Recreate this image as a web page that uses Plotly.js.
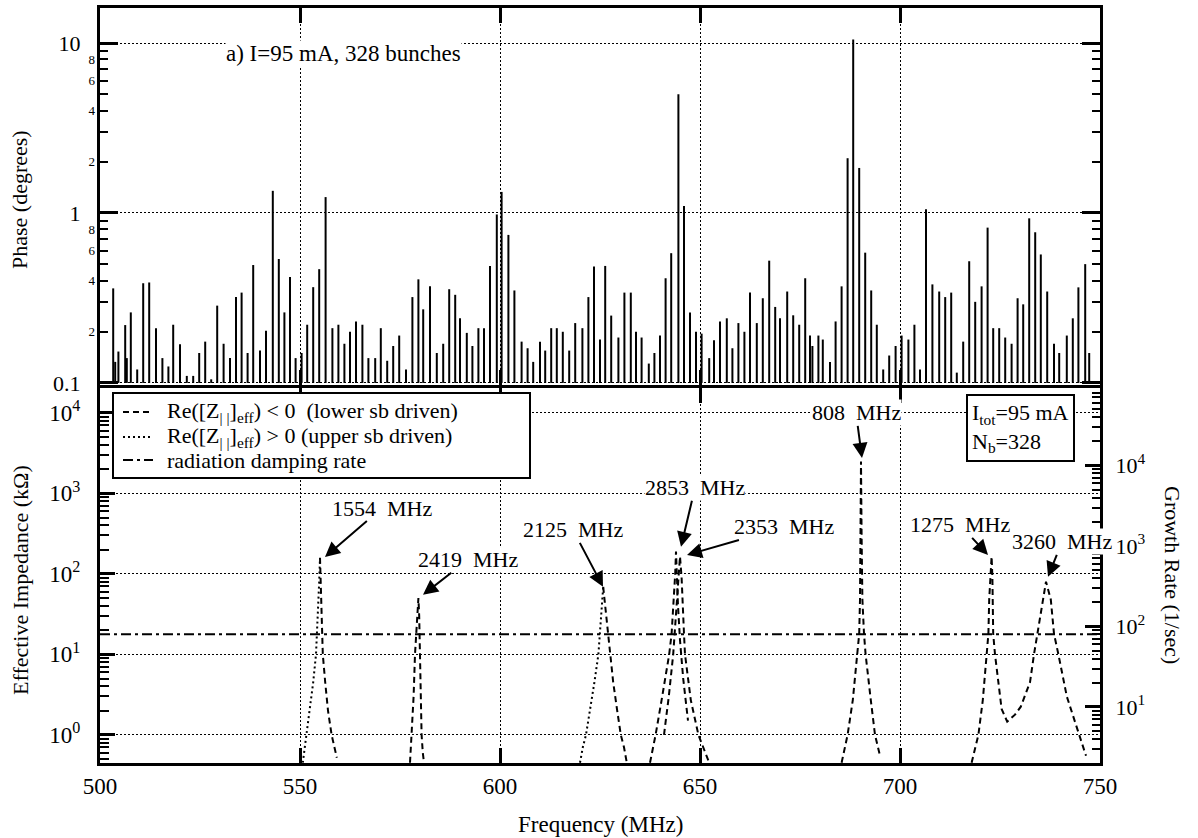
<!DOCTYPE html>
<html><head><meta charset="utf-8">
<script src="https://cdn.plot.ly/plotly-3.0.1.min.js"></script>
<style>html,body{margin:0;padding:0;background:#fff;}</style>
</head><body>
<div id="chart" style="width:1198px;height:838px;"></div>
<script>
// ---------- Top panel: phase spectrum (stems) ----------
const phaseFreq = [
503.3,503.8,504.6,506.3,506.7,507.7,509.3,510.8,512.3,514.0,515.6,517.1,518.3,520.0,521.7,523.3,524.8,526.3,527.8,529.3,
530.9,532.5,534.0,535.4,536.9,538.3,540.0,541.5,543.2,544.7,546.1,547.5,548.9,550.4,551.8,553.3,554.8,556.4,558.1,559.6,
561.1,562.5,564.0,565.6,567.1,568.8,570.2,571.8,573.3,574.8,
576.5,578.1,579.6,580.8,582.5,584.2,585.8,587.3,588.8,590.0,591.7,593.1,594.6,596.0,597.5,599.2,600.4,602.1,603.6,605.4,
606.9,608.3,610.0,611.3,612.8,614.2,615.7,617.3,618.8,620.6,622.1,623.5,625.0,626.3,627.8,629.6,631.1,632.7,634.0,635.4,
637.2,638.6,640.0,641.4,642.8,644.6,646.0,647.5,649.0,650.4,652.3,653.5,655.0,656.7,658.1,659.6,661.1,662.5,664.2,665.7,
667.3,668.8,670.0,671.8,673.3,674.8,
676.3,677.5,678.1,679.6,680.7,682.5,683.9,685.4,686.9,688.3,689.8,691.3,692.8,694.2,695.8,697.3,698.9,700.4,702.1,703.6,
705.0,706.5,708.1,709.8,711.3,712.8,714.2,715.8,717.3,718.8,720.4,721.9,723.3,724.8,726.3,727.9,729.4,730.8,732.3,733.8,
735.2,736.8,738.5,739.8,741.7,743.2,744.6,746.3,747.3];
const phaseDeg = [
0.36,0.133,0.153,0.219,0.14,0.26,0.12,0.386,0.39,0.21,0.14,0.125,0.22,0.169,0.11,0.11,0.15,0.175,0.105,0.285,
0.17,0.14,0.32,0.34,0.15,0.494,0.155,0.203,1.35,0.536,0.26,0.42,0.14,0.15,0.22,0.366,0.467,1.24,0.21,0.22,
0.17,0.20,0.23,0.22,0.14,0.14,0.21,0.135,0.165,0.19,
0.12,0.32,0.407,0.271,0.37,0.15,0.17,0.356,0.33,0.24,0.197,0.165,0.21,0.21,0.488,0.98,1.33,0.743,0.35,0.175,
0.16,0.133,0.175,0.155,0.21,0.21,0.2,0.155,0.225,0.21,0.32,0.485,0.18,0.488,0.249,0.185,0.34,0.34,0.2,0.185,
0.13,0.15,0.19,0.413,0.58,5.0,1.10,0.26,0.2,0.195,0.14,0.178,0.23,0.24,0.16,0.225,0.2,0.34,0.225,0.315,
0.524,0.28,0.24,0.345,0.25,0.22,
0.413,0.19,0.165,0.19,0.18,0.133,0.23,0.37,2.1,10.5,1.84,0.584,0.35,0.22,0.12,0.145,0.165,0.19,0.18,0.22,
0.12,1.05,0.38,0.345,0.32,0.34,0.115,0.175,0.52,0.3,0.37,0.82,0.21,0.21,0.185,0.17,0.315,0.29,0.93,0.77,
0.57,0.345,0.17,0.15,0.19,0.24,0.365,0.5,0.15];
const phaseBase = 0.1;

// ---------- Bottom panel: effective impedance (kOhm) ----------
const c1554DotFreq  = [550.7,551.2,551.7,552.5,553.3,554.0,554.4,554.8,555.0];
const c1554DotImp   = [0.45,0.7,1,2,4.5,10,25,80,158];
const c1554DashFreq = [555.0,555.2,555.4,555.7,556.3,557.0,557.9,558.6,559.2];
const c1554DashImp  = [158,60,20,10,4.5,2,1,0.7,0.52];

const c2419Freq = [577.5,577.9,578.4,578.75,579.0,579.3,579.6,579.8,580.0,580.2,580.4,580.7,581.0];
const c2419Imp  = [0.45,1,3,10,18,30,50,30,10,3,1,0.6,0.45];

const c2125DotFreq  = [620.0,620.7,621.5,622.5,623.6,624.6,625.0,625.5,625.8];
const c2125DotImp   = [0.45,0.7,1,2,4.5,10,18,40,69];
const c2125DashFreq = [625.8,626.2,627.0,627.5,628.3,629.3,630.2,631.0,631.7];
const c2125DashImp  = [69,45,18,10,4.5,2,1,0.7,0.45];

const c2853Freq = [637.5,638.9,640.4,642.3,642.9,643.5,643.8,644.0,644.2,644.5,645.0,645.8,647.0];
const c2853Imp  = [0.45,1,2.7,10,18,48,100,190,100,40,15,5,1.5];

const c2353Freq = [641.0,642.2,643.3,644.0,644.6,645.0,645.4,645.7,646.0,646.25,647.7,649.6,652.3];
const c2353Imp  = [1,3,10,30,80,164,90,48,18,10,2.7,1,0.45];

const c808Freq = [685.4,686.9,688.2,689.3,689.8,690.0,690.15,690.25,690.4,690.6,691.0,691.4,692.7,693.75,695.0];
const c808Imp  = [0.45,1,2.7,10,18,48,300,2500,300,48,18,10,2.7,1,0.55];

const c1275Freq = [717.9,719.6,720.7,721.7,722.1,722.3,722.6,722.9,723.1,723.2,723.3,723.75,724.6,725.4,726.8,
                   728.75,730.2,732.5,733.5,734.3,735.7,736.5,737.7,738.5,739.6,741.7,744.8,746.5];
const c1275Imp  = [0.45,1,2.7,10,18,48,100,164,90,48,18,10,4.5,2.1,1.46,
                   1.78,2.24,4.5,10,18,48,80,48,18,10,3.0,1,0.55];

// radiation damping rate (1/sec, right axis)
const dampFreq = [500,750];
const dampRate = [80,80];

// peak labels: text, arrow-head frequency, arrow-head impedance, text offset (px)
const peakLabels = ['1554\u2002MHz','2419\u2002MHz','2125\u2002MHz','2853\u2002MHz','2353\u2002MHz','808\u2002MHz','1275\u2002MHz','3260\u2002MHz'];
const peakHeadFreq = [556.25,580.75,625.75,645.25,646.75,690.5,722.0,737.0];
const peakHeadImp  = [162,55,69,217,172,2760,172,92];
const peakDx = [57,45,-30,14,97,-6,-28,14];
const peakDy = [-49,-35,-57,-59,-28,-45,-30,-35];

// legend entries
const legendText = ['Re([Z<sub>| |</sub>]<sub>eff</sub>) &lt; 0\u00A0\u00A0(lower sb driven)',
                    'Re([Z<sub>| |</sub>]<sub>eff</sub>) &gt; 0 (upper sb driven)',
                    'radiation damping rate'];

// ticks
const xTickVals = [500,550,600,650,700,750];
const phaseMajorVals = [0.1,1,10];
const phaseMajorText = ['0.1','1','10'];
const phaseMinorVals = [0.2,0.4,0.6,0.8,2,4,6,8];
const phaseMinorText = ['2','4','6','8','2','4','6','8'];
const impTickVals = [1,10,100,1000,10000];
const impTickText = ['10<sup>0</sup>','10<sup>1</sup>','10<sup>2</sup>','10<sup>3</sup>','10<sup>4</sup>'];
const rateTickVals = [10,100,1000,10000];
const rateTickText = ['10<sup>1</sup>','10<sup>2</sup>','10<sup>3</sup>','10<sup>4</sup>'];

// ---------- build ----------
const FONT = 'Liberation Serif, Times New Roman, serif';
const stemX = [], stemY = [];
phaseFreq.forEach((f,i)=>{ stemX.push(f,f,null); stemY.push(phaseBase, phaseDeg[i], null); });

const DASH = '6px,4px', DOT = '2px,3px', DASHDOT = '10px,4px,3px,4px';
function curve(x,y,dash){
  return {x:x,y:y,xaxis:'x2',yaxis:'y2',type:'scatter',mode:'lines',
          line:{color:'black',width:2,dash:dash},showlegend:false,hoverinfo:'skip'};
}
const traces = [
  {x:stemX,y:stemY,xaxis:'x',yaxis:'y',type:'scatter',mode:'lines',line:{color:'black',width:2},showlegend:false,hoverinfo:'skip'},
  {x:stemX,y:stemY,xaxis:'x',yaxis:'y4',type:'scatter',mode:'lines',line:{color:'rgba(0,0,0,0)',width:0.1},showlegend:false,hoverinfo:'skip'},
  {x:dampFreq,y:dampRate,xaxis:'x2',yaxis:'y3',type:'scatter',mode:'lines',line:{color:'black',width:2,dash:DASHDOT},
   showlegend:false,hoverinfo:'skip'},
  curve(c1554DotFreq,c1554DotImp,DOT),
  curve(c1554DashFreq,c1554DashImp,DASH),
  curve(c2419Freq,c2419Imp,DASH),
  curve(c2125DotFreq,c2125DotImp,DOT),
  curve(c2125DashFreq,c2125DashImp,DASH),
  curve(c2853Freq,c2853Imp,DASH),
  curve(c2353Freq,c2353Imp,DASH),
  curve(c808Freq,c808Imp,DASH),
  curve(c1275Freq,c1275Imp,DASH)
];

const grid = {showgrid:true,gridcolor:'black',gridwidth:1,griddash:'2px,2px'};
const xCommon = Object.assign({range:[500,750],autorange:false,tickmode:'array',tickvals:xTickVals,
  ticks:'inside',ticklen:15,tickwidth:3,tickcolor:'black',showline:true,linewidth:3,linecolor:'black',
  mirror:'ticks',zeroline:false},grid);

const annotations = [];
peakLabels.forEach((t,i)=>{
  annotations.push({xref:'x2',yref:'y2',x:peakHeadFreq[i],y:Math.log10(peakHeadImp[i]),ax:peakDx[i],ay:peakDy[i],
    text:t,showarrow:true,arrowhead:2,arrowsize:1.5,arrowwidth:2,arrowcolor:'black',
    font:{family:FONT,size:22,color:'black'},bgcolor:'white',borderpad:0});
});
annotations.push({xref:'x',yref:'y',x:560.75,y:0.941,text:'a) I=95 mA, 328 bunches',showarrow:false,
  xanchor:'center',yanchor:'middle',font:{family:FONT,size:23,color:'black'},bgcolor:'white',borderpad:0});
annotations.push({xref:'x2',yref:'y2',x:730,y:3.807,text:'I<sub>tot</sub>=95 mA<br>N<sub>b</sub>=328',showarrow:false,
  xanchor:'center',yanchor:'middle',align:'left',font:{family:FONT,size:22,color:'black'},
  bgcolor:'white',bordercolor:'black',borderwidth:2,borderpad:4});
// axis titles
annotations.push({xref:'paper',yref:'paper',x:-0.08,y:0.7457,xanchor:'center',yanchor:'middle',text:'Phase (degrees)',
  textangle:-90,showarrow:false,font:{family:FONT,size:22,color:'black'}});
annotations.push({xref:'paper',yref:'paper',x:-0.079,y:0.2424,xanchor:'center',yanchor:'middle',text:'Effective Impedance (kΩ)',
  textangle:-90,showarrow:false,font:{family:FONT,size:22,color:'black'}});
annotations.push({xref:'paper',yref:'paper',x:1.073,y:0.249,xanchor:'center',yanchor:'middle',text:'Growth Rate (1/sec)',
  textangle:90,showarrow:false,font:{family:FONT,size:22,color:'black'}});
annotations.push({xref:'paper',yref:'paper',x:0.5,y:-0.0808,xanchor:'center',yanchor:'middle',text:'Frequency (MHz)',
  showarrow:false,font:{family:FONT,size:23,color:'black'}});

// manual legend (box, line samples, labels) in paper coordinates
const legRowY = [0.4649,0.4318,0.4013];
const legDash = [DASH,DOT,DASHDOT];
const shapes = [{type:'rect',xref:'paper',yref:'paper',x0:0.013,x1:0.43,y0:0.3775,y1:0.4901,
                 line:{color:'black',width:2},fillcolor:'white',layer:'above'}];
legendText.forEach((t,i)=>{
  shapes.push({type:'line',xref:'paper',yref:'paper',x0:0.023,x1:0.053,y0:legRowY[i],y1:legRowY[i],
               line:{color:'black',width:2,dash:legDash[i]},layer:'above'});
  annotations.push({xref:'paper',yref:'paper',x:0.066,y:legRowY[i],xanchor:'left',yanchor:'middle',text:t,
               showarrow:false,font:{family:FONT,size:22,color:'black'},borderpad:0});
});

const layout = {
  width:1198,height:838,margin:{l:100,r:98,t:8,b:75},
  paper_bgcolor:'white',plot_bgcolor:'white',
  font:{family:FONT,color:'black'},
  showlegend:false,
  xaxis:Object.assign({},xCommon,{domain:[0,1],anchor:'y',showticklabels:false}),
  xaxis2:Object.assign({},xCommon,{domain:[0,1],anchor:'y2',showticklabels:true,
          tickfont:{family:FONT,size:23,color:'black'},ticklabelstandoff:0}),
  yaxis:Object.assign({domain:[0.5007,1],anchor:'x',type:'log',range:[-1.012,1.206],autorange:false,
          tickmode:'array',tickvals:phaseMajorVals,ticktext:phaseMajorText,
          ticks:'inside',ticklen:18,tickwidth:3,tickcolor:'black',
          minor:{dtick:'D1',ticks:'inside',ticklen:8,tickwidth:2,tickcolor:'black',showgrid:false},
          showline:true,linewidth:3,linecolor:'black',mirror:'ticks',zeroline:false,
          tickfont:{family:FONT,size:22,color:'black'},ticklabelstandoff:12},grid),
  yaxis4:{overlaying:'y',anchor:'x',side:'left',type:'log',range:[-1.012,1.206],autorange:false,
          tickmode:'array',tickvals:phaseMinorVals,ticktext:phaseMinorText,ticks:'',showline:false,showgrid:false,
          zeroline:false,tickfont:{family:FONT,size:13,color:'black'},ticklabelstandoff:4},
  yaxis2:Object.assign({domain:[0,0.4967],anchor:'x2',type:'log',range:[-0.35,4.31],autorange:false,
          tickmode:'array',tickvals:impTickVals,ticktext:impTickText,
          ticks:'inside',ticklen:15,tickwidth:3,tickcolor:'black',
          minor:{dtick:'D1',ticks:'inside',ticklen:9,tickwidth:2,tickcolor:'black',showgrid:false},
          showline:true,linewidth:3,linecolor:'black',mirror:false,zeroline:false,
          tickfont:{family:FONT,size:23,color:'black'},ticklabelstandoff:12},grid),
  yaxis3:{overlaying:'y2',anchor:'x2',side:'right',type:'log',range:[0.304,4.963],autorange:false,
          tickmode:'array',tickvals:rateTickVals,ticktext:rateTickText,
          ticks:'inside',ticklen:15,tickwidth:3,tickcolor:'black',
          minor:{dtick:'D1',ticks:'inside',ticklen:8,tickwidth:2,tickcolor:'black',showgrid:false},
          showline:true,linewidth:3,linecolor:'black',showgrid:false,zeroline:false,
          tickfont:{family:FONT,size:22,color:'black'},ticklabelstandoff:8},
  shapes:shapes,
  annotations:annotations
};
Plotly.newPlot('chart',traces,layout,{displayModeBar:false,responsive:false});
</script>
</body></html>
